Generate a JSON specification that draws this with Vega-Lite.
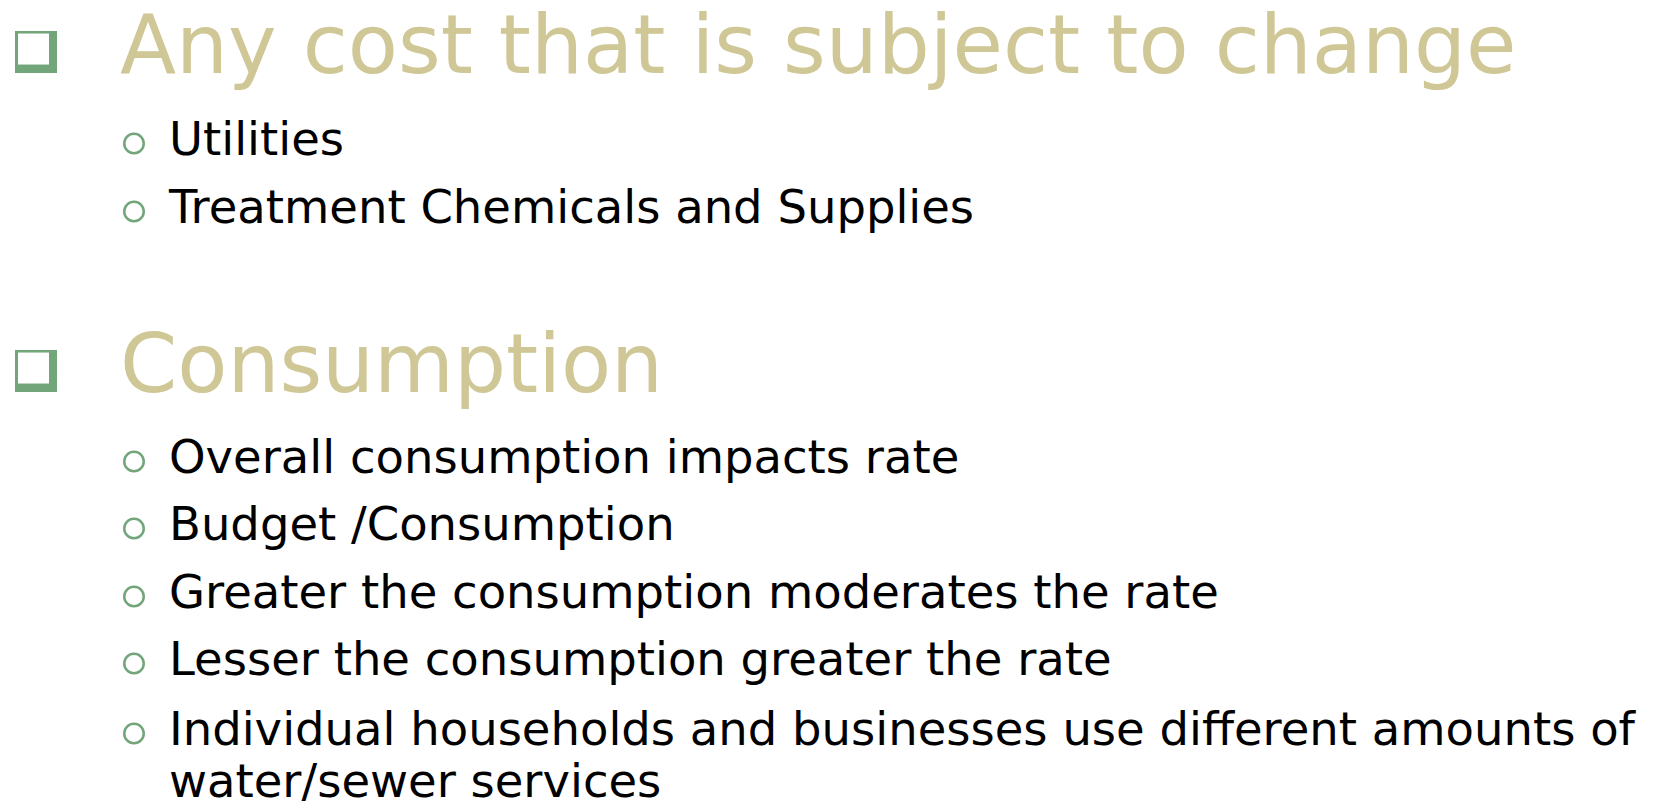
{
  "$schema": "https://vega.github.io/schema/vega-lite/v6.json",
  "width": 1661,
  "height": 808,
  "autosize": {"type": "fit", "contains": "padding"},
  "padding": 0,
  "background": "white",
  "config": {"view": {"stroke": null}},
  "data": {
    "values": [
      {"line": 1.074, "indent": 1, "kind": "heading", "text": "Any cost that is subject to change"},
      {"line": 2.279, "indent": 2, "kind": "bullet", "text": "Utilities"},
      {"line": 3.279, "indent": 2, "kind": "bullet", "text": "Treatment Chemicals and Supplies"},
      {"line": 5.765, "indent": 1, "kind": "heading", "text": "Consumption"},
      {"line": 6.956, "indent": 2, "kind": "bullet", "text": "Overall consumption impacts rate"},
      {"line": 7.941, "indent": 2, "kind": "bullet", "text": "Budget /Consumption"},
      {"line": 8.941, "indent": 2, "kind": "bullet", "text": "Greater the consumption moderates the rate"},
      {"line": 9.926, "indent": 2, "kind": "bullet", "text": "Lesser the consumption greater the rate"},
      {"line": 10.956, "indent": 2, "kind": "bullet", "text": "Individual households and businesses use different amounts of\nwater/sewer services"}
    ]
  },
  "encoding": {
    "x": {"field": "indent", "type": "quantitative", "scale": {"domain": [-1.449, 32.449], "nice": false, "zero": false}, "axis": null},
    "y": {"field": "line", "type": "quantitative", "scale": {"domain": [0, 11.882], "reverse": true, "nice": false, "zero": false}, "axis": null}
  },
  "layer": [
    {
      "transform": [{"filter": "datum.kind == 'heading'"}],
      "mark": {"type": "point", "shape": "square", "filled": true, "size": 1764, "color": "#72A67A", "opacity": 1, "xOffset": -84, "yOffset": -21}
    },
    {
      "transform": [{"filter": "datum.kind == 'heading'"}],
      "mark": {"type": "point", "shape": "square", "filled": true, "size": 961, "color": "#FFFFFF", "opacity": 1, "xOffset": -86.5, "yOffset": -24}
    },
    {
      "transform": [{"filter": "datum.kind == 'heading'"}],
      "mark": {"type": "text", "align": "left", "baseline": "alphabetic", "font": "DejaVu Sans", "fontSize": 82, "color": "#CFC796"},
      "encoding": {"text": {"field": "text"}}
    },
    {
      "transform": [{"filter": "datum.kind == 'bullet'"}],
      "mark": {"type": "point", "shape": "circle", "filled": false, "size": 380, "strokeWidth": 2.5, "color": "#72A67A", "opacity": 1, "xOffset": -35, "yOffset": -11.5}
    },
    {
      "transform": [{"filter": "datum.kind == 'bullet'"}],
      "mark": {"type": "text", "align": "left", "baseline": "alphabetic", "font": "DejaVu Sans", "fontSize": 46.5, "color": "#000000", "lineBreak": "\n", "lineHeight": 52},
      "encoding": {"text": {"field": "text"}}
    }
  ]
}
